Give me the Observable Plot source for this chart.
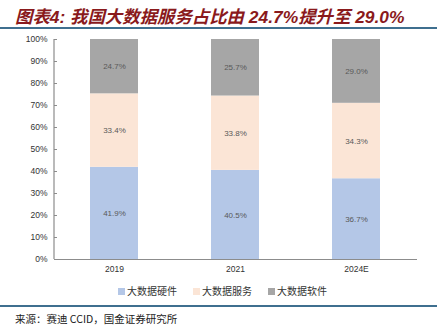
<!DOCTYPE html>
<html><head><meta charset="utf-8">
<script src="https://cdn.jsdelivr.net/npm/d3@7"></script>
<script src="https://cdn.jsdelivr.net/npm/@observablehq/plot@0.6"></script>
<style>
body{margin:0;background:#fff;}
#wrap{position:relative;width:445px;height:329px;overflow:hidden;font-family:"Liberation Sans","Noto Sans CJK SC",sans-serif;background:#fff;}
#chart{position:absolute;left:0;top:0;}
#title{position:absolute;left:15px;top:3px;font-size:17.4px;font-weight:bold;font-style:italic;color:#8a1a1c;white-space:nowrap;}
#tline{position:absolute;left:0;top:27px;width:437px;height:2px;background:#3f6f8f;}
#legend{position:absolute;left:0;width:445px;top:283px;display:flex;justify-content:center;gap:16px;font-size:10px;color:#333;font-family:"Noto Sans CJK SC",sans-serif;}
#legend span.sw{display:inline-block;width:7px;height:7px;margin-right:2px;vertical-align:middle;position:relative;top:-1px;}
#sline{position:absolute;left:0;top:305px;width:437px;height:2px;background:#3f6f8f;}
#source{position:absolute;left:15px;top:311px;font-size:10.5px;color:#222;white-space:nowrap;font-family:"Noto Sans CJK SC",sans-serif;}
</style></head>
<body>
<div id="wrap">
<div id="chart"></div>
<div id="title">图表4:&nbsp;我国大数据服务占比由 24.7%提升至 29.0%</div>
<div id="tline"></div>
<div id="legend"></div>
<div id="sline"></div>
<div id="source">来源：赛迪 CCID，国金证券研究所</div>
</div>
<script>
const years = ["2019", "2021", "2024E"];
const types = ["大数据硬件", "大数据服务", "大数据软件"];
const hardware = [41.9, 40.5, 36.7];
const service = [33.4, 33.8, 34.3];
const software = [24.7, 25.7, 29.0];
const colors = ["#B4C7E7", "#FBE5D6", "#A6A6A6"];
const yTicks = [0, 10, 20, 30, 40, 50, 60, 70, 80, 90, 100];

const series = [hardware, service, software];
const data = [];
years.forEach((yr, i) => {
  types.forEach((t, j) => data.push({year: yr, type: t, value: series[j][i]}));
});

const W = 445, H = 329, mL = 54, mR = 28, mT = 39, mB = 70;

const yAxisLine = (index, scales, values, dims) => {
  return d3.create("svg:line")
    .attr("x1", dims.marginLeft).attr("x2", dims.marginLeft)
    .attr("y1", dims.marginTop).attr("y2", dims.height - dims.marginBottom)
    .attr("stroke", "#8c8c8c").attr("stroke-width", 1.2).node();
};

const plot = Plot.plot({
  width: W, height: H,
  marginLeft: mL, marginRight: mR, marginTop: mT, marginBottom: mB,
  style: {fontSize: "8.5px", color: "#333", fontFamily: "Liberation Sans, Arial, sans-serif", background: "transparent"},
  x: {domain: years, paddingInner: 0.6, paddingOuter: 0.3, label: null},
  y: {domain: [0, 100], label: null},
  color: {domain: types, range: colors},
  marks: [
    Plot.barY(data, {x: "year", y: "value", fill: "type"}),
    Plot.text(data, Plot.stackY({x: "year", y: "value", text: d => d.value.toFixed(1) + "%", fill: "#595959", fontSize: 8})),
    Plot.ruleY(yTicks, {stroke: "#8c8c8c", insetRight: W - mL - mR - 3}),
    Plot.ruleY([0], {stroke: "#8c8c8c", strokeWidth: 1.2}),
    yAxisLine,
    Plot.axisY({ticks: yTicks, tickSize: 0, tickPadding: 7, tickFormat: d => d + "%", label: null}),
    Plot.axisX({tickSize: 0, tickPadding: 6, label: null})
  ]
});
document.getElementById("chart").appendChild(plot);

const lg = document.getElementById("legend");
types.forEach((t, i) => {
  const d = document.createElement("div");
  d.innerHTML = `<span class="sw" style="background:${colors[i]}"></span>${t}`;
  lg.appendChild(d);
});
</script>
</body></html>
